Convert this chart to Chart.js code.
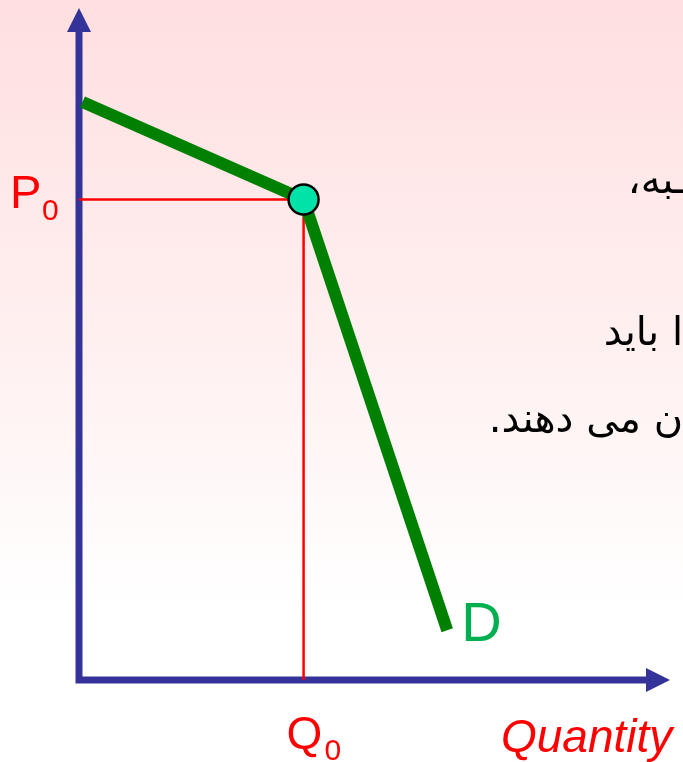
<!DOCTYPE html>
<html>
<head>
<meta charset="utf-8">
<script src="https://cdn.jsdelivr.net/npm/chart.js@4/dist/chart.umd.min.js"></script>
<style>
  html, body { margin: 0; padding: 0; }
  body { width: 683px; height: 762px; background: linear-gradient(#ffdfe0 0%, #fff0f0 45%, #ffffff 80%); overflow: hidden; }
  #wrap { width: 683px; height: 762px; position: relative; }
</style>
</head>
<body>
<div id="wrap"><canvas id="myChart"></canvas></div>
<script>
const ctx = document.querySelector("#myChart")

// kinked demand curve: start on price axis, kink, end
const demandX = [0.6, 38, 62.3];
const demandY = [86, 71.5, 7.4];
// current price / quantity
const p0 = 71.5;
const q0 = 38;
const priceLabel = "P";
const quantityLabel = "Q";
const curveLabel = "D";
const xAxisTitle = "Quantity";
// text fragments cut off at the right edge
const sideText = ["ـبه،", "ا باید", "ن می دهند."];

const axisColor = "#333399";

// axes with arrow heads + labels, drawn on the chart scales
const extras = {
  id: 'extras',
  beforeDatasetsDraw(chart) {
    const c = chart.ctx, x = chart.scales.x, y = chart.scales.y;
    const x0 = x.getPixelForValue(0), y0 = y.getPixelForValue(0);
    const xEnd = x.getPixelForValue(100), yTop = y.getPixelForValue(100);
    c.save();
    c.strokeStyle = axisColor;
    c.fillStyle = axisColor;
    c.lineWidth = 7;
    c.lineCap = 'square';
    c.beginPath();
    c.moveTo(x0, yTop + 20);
    c.lineTo(x0, y0);
    c.lineTo(xEnd - 20, y0);
    c.stroke();
    // arrows
    c.beginPath();
    c.moveTo(x0, yTop);
    c.lineTo(x0 - 12, yTop + 24);
    c.lineTo(x0 + 12, yTop + 24);
    c.closePath();
    c.fill();
    c.beginPath();
    c.moveTo(xEnd, y0);
    c.lineTo(xEnd - 24, y0 - 12);
    c.lineTo(xEnd - 24, y0 + 12);
    c.closePath();
    c.fill();
    c.restore();
  },
  afterDraw(chart) {
    const c = chart.ctx, x = chart.scales.x, y = chart.scales.y;
    c.save();
    c.fillStyle = "#ff0000";
    c.textBaseline = 'alphabetic';
    const py = y.getPixelForValue(p0);
    c.font = '47px "Liberation Sans", Arial, sans-serif';
    c.fillText(priceLabel, 10, py + 8);
    c.font = '30px "Liberation Sans", Arial, sans-serif';
    c.fillText("0", 42, py + 20);
    const qx = x.getPixelForValue(q0);
    c.font = '46px "Liberation Sans", Arial, sans-serif';
    c.fillText(quantityLabel, qx - 17, 749);
    c.font = '30px "Liberation Sans", Arial, sans-serif';
    c.fillText("0", qx + 21, 760);
    c.font = 'italic 46px "Liberation Sans", Arial, sans-serif';
    c.fillText(xAxisTitle, 501, 752);
    c.fillStyle = "#00b050";
    c.font = '56px "Liberation Sans", Arial, sans-serif';
    c.fillText(curveLabel, x.getPixelForValue(demandX[2]) + 14, 641);
    // persian text
    c.fillStyle = "#000000";
    c.font = '40px "DejaVu Sans", sans-serif';
    c.direction = 'rtl';
    c.textAlign = 'right';
    c.fillText(sideText[0], 686, 193);
    c.fillText(sideText[1], 683, 345);
    c.fillText(sideText[2], 683, 432);
    c.restore();
  }
};

const data = {
  datasets: [
    {
      label: 'price line',
      data: [{x: 0, y: p0}, {x: q0, y: p0}],
      borderColor: '#ff0000',
      borderWidth: 2.5,
      pointRadius: 0,
      showLine: true,
      order: 3
    },
    {
      label: 'quantity line',
      data: [{x: q0, y: p0}, {x: q0, y: 0}],
      borderColor: '#ff0000',
      borderWidth: 2.5,
      pointRadius: 0,
      showLine: true,
      order: 3
    },
    {
      label: 'demand',
      data: demandX.map((v, i) => ({x: v, y: demandY[i]})),
      borderColor: '#008000',
      borderWidth: 12,
      borderJoinStyle: 'miter',
      borderCapStyle: 'butt',
      pointRadius: 0,
      showLine: true,
      order: 2
    },
    {
      label: 'point',
      data: [{x: q0, y: p0}],
      backgroundColor: '#00e3a8',
      borderColor: '#000000',
      borderWidth: 2.5,
      pointRadius: 15,
      order: 1
    }
  ]
};

const config = {
  type: 'scatter',
  data: data,
  options: {
    responsive: true,
    maintainAspectRatio: false,
    animation: false,
    layout: { autoPadding: false, padding: { left: 79, right: 13, top: 8, bottom: 82 } },
    plugins: { legend: { display: false }, tooltip: { enabled: false } },
    scales: {
      x: { type: 'linear', min: 0, max: 100, display: false },
      y: { type: 'linear', min: 0, max: 100, display: false }
    }
  },
  plugins: [extras]
};

new Chart(ctx, config)
</script>
</body>
</html>
